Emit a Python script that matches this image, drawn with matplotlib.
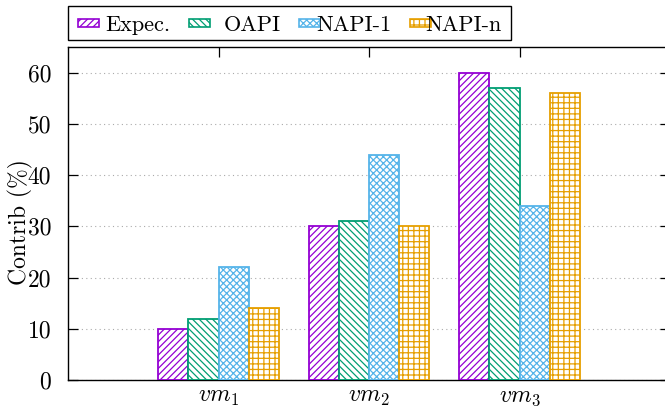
import numpy as np
import matplotlib
matplotlib.use('Agg')
import matplotlib.pyplot as plt
from matplotlib.patches import Rectangle

plt.rcParams['font.family'] = 'serif'
plt.rcParams['font.serif'] = ['cmr10']
plt.rcParams['mathtext.fontset'] = 'cm'
plt.rcParams['axes.unicode_minus'] = False
plt.rcParams['hatch.linewidth'] = 0.9

# data
vms = [r'$vm_1$', r'$vm_2$', r'$vm_3$']
series = ['Expec.', 'OAPI', 'NAPI-1', 'NAPI-n']
expec = [10, 30, 60]
oapi = [12, 31, 57]
napi1 = [22, 44, 34]
napin = [14, 30, 56]

colors = ['#9400D3', '#009E73', '#56B4E9', '#E69F00']   # gnuplot default palette
hatches = ['/////', '\\\\\\\\\\', 'xxxxx', '+++']
fs = 17

W, H = 665, 412
fig = plt.figure(figsize=(W/100, H/100), dpi=100)
ax = fig.add_axes([68/W, 32/H, 602/W, 333/H])

x = np.arange(1, len(vms) + 1)
w = 0.2
for i, (vals, c, h, lab) in enumerate(zip([expec, oapi, napi1, napin], colors, hatches, series)):
    ax.bar(x + (i - 1.5) * w, vals, w, color='white', edgecolor=c, hatch=h,
           linewidth=1.3, label=lab, zorder=3)

ax.set_xlim(0, 4)
ax.set_ylim(0, 65)
ax.set_yticks(np.arange(0, 61, 10))
ax.set_xticks(x)
ax.set_xticklabels(vms)
ax.tick_params(axis='both', direction='in', labelsize=fs, top=True, right=True,
               length=7, width=0.9)
ax.tick_params(axis='x', pad=4)
ax.tick_params(axis='y', pad=12)
ax.yaxis.grid(True, linestyle=(0, (1, 3)), color='#aaaaaa', linewidth=0.8)
for s in ax.spines.values():
    s.set_linewidth(1.0)
ax.set_ylabel('Contrib (%)', fontsize=fs)
ax.yaxis.set_label_coords(-35/602, 0.474)

# gnuplot-like key: fixed columns, sample box then right-justified text
fig.add_artist(Rectangle((68/W, 1 - 40/H), 443/W, 34/H, transform=fig.transFigure,
                         facecolor='white', edgecolor='black', linewidth=1.0))
for i, (c, h, lab) in enumerate(zip(colors, hatches, series)):
    x0 = 78 + 110.5 * i
    fig.add_artist(Rectangle((x0/W, 1 - 27/H), 21/W, 8/H, transform=fig.transFigure,
                             facecolor='white', edgecolor=c, hatch=h, linewidth=1.2))
    fig.text((x0 + 92)/W, 1 - 23/H, lab, ha='right', va='center_baseline',
             fontsize=16)

fig.savefig('out.png', dpi=100)
